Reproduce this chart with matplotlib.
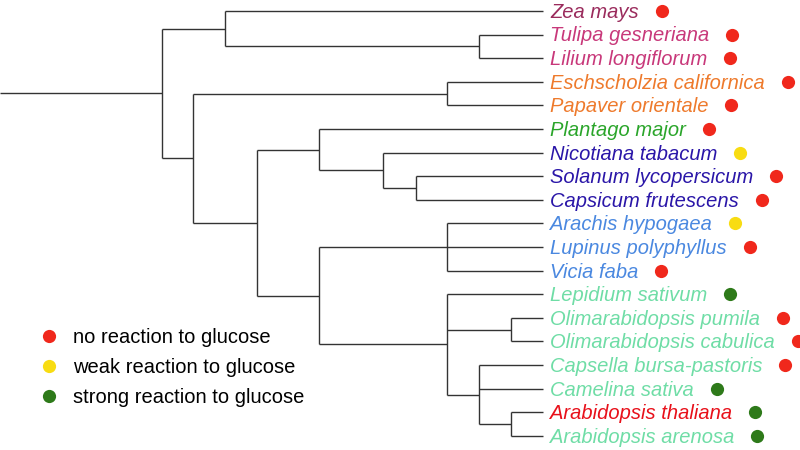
import matplotlib
matplotlib.use("Agg")
import matplotlib.pyplot as plt
from matplotlib.lines import Line2D

# leaves, top to bottom
species = [
    "Zea mays", "Tulipa gesneriana", "Lilium longiflorum",
    "Eschscholzia californica", "Papaver orientale", "Plantago major",
    "Nicotiana tabacum", "Solanum lycopersicum", "Capsicum frutescens",
    "Arachis hypogaea", "Lupinus polyphyllus", "Vicia faba",
    "Lepidium sativum", "Olimarabidopsis pumila", "Olimarabidopsis cabulica",
    "Capsella bursa-pastoris", "Camelina sativa", "Arabidopsis thaliana",
    "Arabidopsis arenosa",
]
label_colors = [
    "#9a2b5c", "#c8387a", "#c8387a",
    "#ee7a2c", "#ee7a2c", "#2aa52a",
    "#2a16a8", "#2a16a8", "#2a16a8",
    "#4a88e0", "#4a88e0", "#4a88e0",
    "#6fdda6", "#6fdda6", "#6fdda6",
    "#6fdda6", "#6fdda6", "#e8101a",
    "#6fdda6",
]
# 0 = none, 1 = weak, 2 = strong
reaction = [0, 0, 0, 0, 0, 0, 1, 0, 0, 1, 0, 0, 2, 0, 0, 0, 2, 2, 2]
leaf_parent = ["mono", "lil", "lil", "pap", "pap", "ast", "sol1", "sol2", "sol2",
               "fab", "fab", "fab", "bras", "olim", "olim", "cam", "cam", "arab", "arab"]

# internal nodes with their depth from the stem
nodes = ["root", "mono", "lil", "eud", "pap", "core", "ast", "sol1", "sol2",
         "ros", "fab", "bras", "olim", "cam", "arab"]
node_parent = [None, "root", "mono", "root", "eud", "eud", "core", "ast", "sol1",
               "core", "ros", "ros", "bras", "bras", "cam"]
node_depth = [162, 225, 479, 193, 447, 257, 319, 383, 416, 319, 447, 447, 511, 479, 511]
tip_depth = 543

reaction_labels = ["no reaction to glucose", "weak reaction to glucose",
                   "strong reaction to glucose"]
reaction_colors = ["#f0281c", "#f8dc12", "#2e7a1a"]

plt.rcParams["font.family"] = ["Liberation Sans", "DejaVu Sans"]

fig = plt.figure(figsize=(8, 4.5), dpi=100)
ax = fig.add_axes([0, 0, 1, 1])
ax.set_xlim(0, 800)
ax.set_ylim(18.6, -0.466)
ax.axis("off")

# children of every node: leaves and internal nodes
children = {n: [] for n in nodes}
for i, p in enumerate(leaf_parent):
    children[p].append(("leaf", i))
for n, p in zip(nodes, node_parent):
    if p is not None:
        children[p].append(("node", n))
depth = dict(zip(nodes, node_depth))

node_y = {}
def get_y(kind, key):
    if kind == "leaf":
        return key
    if key not in node_y:
        ys = [get_y(k, c) for k, c in children[key]]
        node_y[key] = (min(ys) + max(ys)) / 2
    return node_y[key]

line_kw = dict(color="#333333", lw=1.0, solid_capstyle="butt")
for n in nodes:
    ys = [get_y(k, c) for k, c in children[n]]
    ax.plot([depth[n], depth[n]], [min(ys), max(ys)], **line_kw)
    for k, c in children[n]:
        x_end = tip_depth if k == "leaf" else depth[c]
        ax.plot([depth[n], x_end], [get_y(k, c), get_y(k, c)], **line_kw)
# stem
ax.plot([0, depth["root"]], [get_y("node", "root")] * 2, **line_kw)

# tip labels and reaction dots
texts = []
for i, name in enumerate(species):
    t = ax.annotate(name, (tip_depth, i), xytext=(5, -1), textcoords="offset points",
                    va="center", ha="left", fontsize=14.5, style="italic",
                    color=label_colors[i])
    texts.append(t)

fig.canvas.draw()
renderer = fig.canvas.get_renderer()
inv = ax.transData.inverted()
for i, t in enumerate(texts):
    bb = t.get_window_extent(renderer)
    x_dot = inv.transform((bb.x1 + 23, 0))[0]
    ax.plot(x_dot, i, "o", ms=9.5, color=reaction_colors[reaction[i]], mec="none")

handles = [Line2D([], [], ls="none", marker="o", ms=9.5, color=c, mec="none")
           for c in reaction_colors]
ax.legend(handles, reaction_labels, loc="upper left", bbox_to_anchor=(0.039, 0.29),
          frameon=False, fontsize=14.5, handletextpad=0.7, labelspacing=0.55,
          handlelength=1.0, borderaxespad=0)

fig.savefig("out.png", dpi=100)
